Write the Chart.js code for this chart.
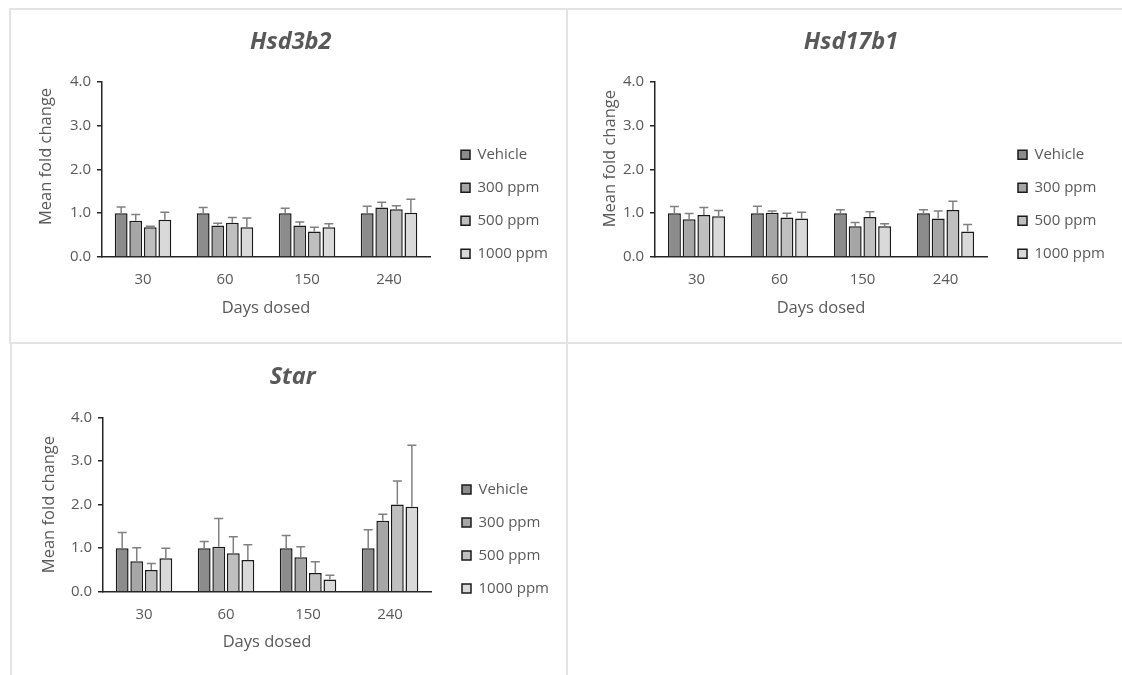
<!DOCTYPE html>
<html>
<head>
<meta charset="utf-8">
<script src="https://cdn.jsdelivr.net/npm/chart.js@4.4.1/dist/chart.umd.min.js"></script>
<style>
  body { margin: 0; background: #fff; width: 1122px; height: 675px; overflow: hidden; position: relative; font-family: "Open Sans", sans-serif; }
  .panel { position: absolute; border: 2px solid #e3e3e3; box-sizing: border-box; }
  canvas { position: absolute; }
</style>
</head>
<body>
<div class="panel" style="left:9px;top:8px;width:559px;height:336px;"></div>
<div class="panel" style="left:566px;top:8px;width:570px;height:336px;"></div>
<div class="panel" style="left:10px;top:342px;width:558px;height:350px;"></div>
<canvas id="c1" style="left:11px;top:10px;" width="555" height="332"></canvas>
<canvas id="c2" style="left:568px;top:10px;" width="554" height="332"></canvas>
<canvas id="c3" style="left:12px;top:345px;" width="555" height="330"></canvas>
<script>
const days = ["30", "60", "150", "240"];
const doses = ["Vehicle", "300 ppm", "500 ppm", "1000 ppm"];
const yTicks = [0, 1, 2, 3, 4];
const doseColors = ["#8c8c8c", "#a6a6a6", "#bfbfbf", "#d9d9d9"];

// mean fold change per dose, across days
const hsd3b2 = [
  [1.00, 1.00, 1.00, 1.00],
  [0.83, 0.72, 0.72, 1.13],
  [0.68, 0.78, 0.58, 1.09],
  [0.85, 0.68, 0.68, 1.01]
];
const hsd3b2Err = [
  [0.14, 0.13, 0.11, 0.16],
  [0.14, 0.05, 0.08, 0.12],
  [0.02, 0.12, 0.10, 0.08],
  [0.17, 0.21, 0.08, 0.31]
];

const hsd17b1 = [
  [1.00, 1.00, 1.00, 1.00],
  [0.86, 1.01, 0.70, 0.88],
  [0.96, 0.90, 0.91, 1.07],
  [0.93, 0.88, 0.70, 0.58]
];
const hsd17b1Err = [
  [0.15, 0.16, 0.08, 0.08],
  [0.13, 0.04, 0.09, 0.17],
  [0.17, 0.10, 0.12, 0.20],
  [0.13, 0.14, 0.06, 0.16]
];

const star = [
  [1.00, 1.00, 1.00, 1.00],
  [0.70, 1.03, 0.79, 1.63],
  [0.50, 0.88, 0.43, 2.00],
  [0.77, 0.73, 0.28, 1.95]
];
const starErr = [
  [0.36, 0.15, 0.29, 0.42],
  [0.31, 0.65, 0.24, 0.15],
  [0.15, 0.38, 0.26, 0.54],
  [0.23, 0.35, 0.10, 1.41]
];

const textColor = "#595959";
const axisColor = "#262626";

// upper error bars, drawn through the y scale
const errorBars = {
  id: "errorBars",
  afterDatasetsDraw(chart) {
    const ctx = chart.ctx;
    const y = chart.scales.y;
    ctx.save();
    ctx.strokeStyle = "#808080";
    ctx.lineWidth = 1.5;
    chart.data.datasets.forEach((ds, i) => {
      chart.getDatasetMeta(i).data.forEach((bar, j) => {
        const top = y.getPixelForValue(ds.data[j] + ds.errors[j]);
        ctx.beginPath();
        ctx.moveTo(bar.x, bar.y);
        ctx.lineTo(bar.x, top);
        ctx.moveTo(bar.x - 4.5, top);
        ctx.lineTo(bar.x + 4.5, top);
        ctx.stroke();
      });
    });
    ctx.restore();
  }
};

// nudge the legend a little further from the plot
const legendShift = {
  id: "legendShift",
  afterLayout(chart) {
    const lg = chart.legend;
    const dx = chart.options.legendX - 18 - lg.left;
    lg.left += dx;
    lg.right += dx;
  }
};

function makeChart(id, title, means, errs, g) {
  new Chart(document.getElementById(id), {
    type: "bar",
    data: {
      labels: days,
      datasets: doses.map((d, i) => ({
        label: d,
        data: means[i],
        errors: errs[i],
        backgroundColor: doseColors[i],
        borderColor: "#1a1a1a",
        borderWidth: 1.5,
        categoryPercentage: 0.71,
        barPercentage: 0.88
      }))
    },
    options: {
      responsive: false,
      animation: false,
      legendX: 450,
      layout: { padding: { left: g.padLeft, right: g.padRight, bottom: g.padBottom, top: 0 } },
      plugins: {
        title: {
          display: true,
          text: title,
          color: textColor,
          font: { family: "Open Sans", size: 23.5, weight: "bold", style: "italic" },
          padding: { top: g.titleTop, bottom: g.titleBottom }
        },
        legend: {
          position: "right",
          title: { display: true, text: "", font: { size: 12 }, padding: { top: 0, bottom: 62 } },
          labels: {
            boxWidth: 9,
            boxHeight: 9,
            padding: 18,
            color: textColor,
            font: { family: "Open Sans", size: 15 }
          }
        },
        tooltip: { enabled: false }
      },
      scales: {
        x: {
          afterFit: (s) => { s.height = 65; },
          grid: { drawOnChartArea: false, drawTicks: false },
          border: { color: axisColor, width: 1.5 },
          ticks: { color: textColor, padding: 13.6, font: { family: "Open Sans", size: 15 } },
          title: {
            display: true,
            text: "Days dosed",
            color: textColor,
            font: { family: "Open Sans", size: 16.5 },
            padding: { top: 0, bottom: 4.1 }
          }
        },
        y: {
          min: yTicks[0],
          max: yTicks[yTicks.length - 1],
          afterBuildTicks: (s) => { s.ticks = yTicks.map(v => ({ value: v })); },
          afterFit: (s) => { s.width = g.yWidth; },
          grid: { drawOnChartArea: false, drawTicks: true, tickLength: 5, color: axisColor, lineWidth: 1.5 },
          border: { color: axisColor, width: 1.5 },
          ticks: {
            color: textColor,
            padding: 6,
            font: { family: "Open Sans", size: 15 },
            callback: (v) => Number(v).toFixed(1)
          },
          title: {
            display: true,
            text: g.yTitle,
            color: textColor,
            font: { family: "Open Sans", size: 16.5 },
            padding: { top: 0, bottom: 0 }
          }
        }
      }
    },
    plugins: [errorBars, legendShift]
  });
}

// leading spaces lift the rotated title a little, as in the top two panels
makeChart("c1", "Hsd3b2", hsd3b2, hsd3b2Err,
  { padLeft: 25.6, yWidth: 65.4, padRight: 21, padBottom: 20, titleTop: 18.5, titleBottom: 25,
    yTitle: "      Mean fold change" });
makeChart("c2", "Hsd17b1", hsd17b1, hsd17b1Err,
  { padLeft: 32.1, yWidth: 54.9, padRight: 20, padBottom: 20, titleTop: 18.5, titleBottom: 25,
    yTitle: "     Mean fold change" });
makeChart("c3", "Star", star, starErr,
  { padLeft: 27.2, yWidth: 63.8, padRight: 21, padBottom: 18.3, titleTop: 17.8, titleBottom: 26.4,
    yTitle: "Mean fold change" });
</script>
</body>
</html>
